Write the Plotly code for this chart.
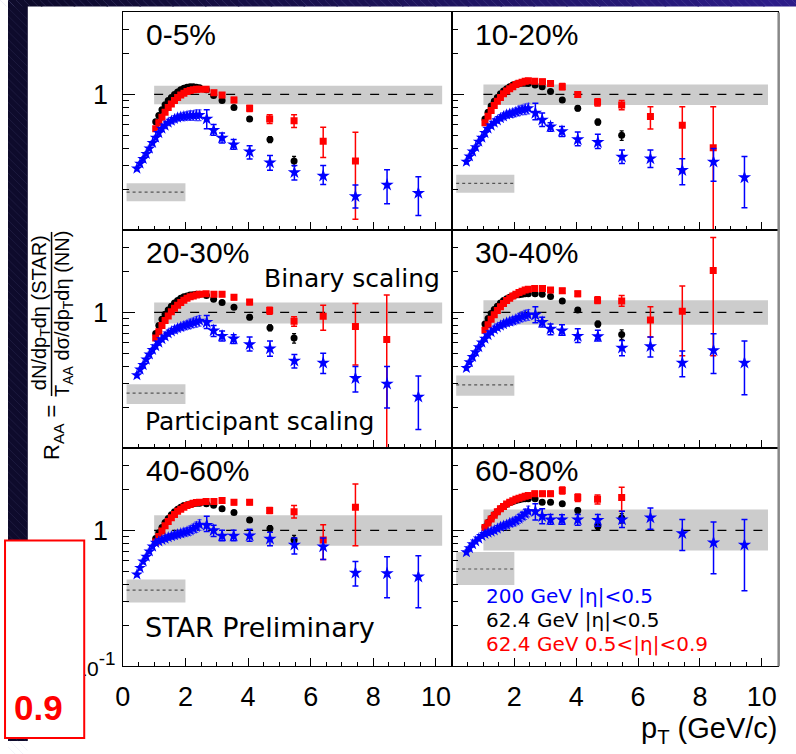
import plotly.graph_objects as go

W, H = 796, 754

# ---------------- data ----------------
centralities = ["0-5%", "10-20%", "20-30%", "30-40%", "40-60%", "60-80%"]

pt_blue_dense = [0.45, 0.55, 0.65, 0.75, 0.85, 0.95, 1.05, 1.15, 1.25, 1.35, 1.45,
                 1.55, 1.65, 1.75, 1.85, 1.95, 2.05, 2.15, 2.25, 2.35, 2.45]
pt_62_dense = [1.05, 1.15, 1.25, 1.35, 1.45, 1.55, 1.65, 1.75, 1.85, 1.95, 2.05,
               2.15, 2.25, 2.35, 2.45]
pt_blue_sparse = [2.68, 2.9, 3.17, 3.54, 4.05, 4.7, 5.48, 6.4, 7.43, 8.44, 9.44]
pt_black_sparse = [2.67, 2.9, 3.17, 3.55, 4.05, 4.7, 5.47]
pt_red_sparse = [2.66, 2.91, 3.17, 3.55, 4.05, 4.69, 5.47, 6.4, 7.43, 8.43]

blue_dense_err_pct = [4, 4, 4, 4, 4, 4, 4, 4, 4, 5, 5, 5, 6, 6, 6, 7, 7, 8, 8, 9, 9]
black_dense_err_pct = [2, 2, 2, 2, 2, 2, 2, 2, 2, 2, 2, 2, 2, 2, 2]
red_dense_err_pct = [3, 3, 3, 3, 3, 3, 3, 3, 3, 3, 3, 3, 3, 3, 3]
black_sparse_err_pct = [3, 3, 3, 3, 4, 5, 8]

# 0-5%
c0_blue_dense = [0.285, 0.31, 0.335, 0.365, 0.40, 0.44, 0.48, 0.52, 0.56, 0.59, 0.62,
                 0.64, 0.66, 0.675, 0.685, 0.69, 0.695, 0.70, 0.70, 0.705, 0.705]
c0_blue = [0.66, 0.545, 0.479, 0.428, 0.379, 0.315, 0.267, 0.252, 0.178, 0.216, 0.188]
c0_blue_hi = [0.77, 0.60, 0.52, 0.466, 0.42, 0.356, 0.30, 0.30, 0.216, 0.279, 0.248]
c0_blue_lo = [0.56, 0.50, 0.44, 0.395, 0.335, 0.277, 0.235, 0.218, 0.146, 0.157, 0.129]
c0_black_dense = [0.63, 0.70, 0.77, 0.84, 0.90, 0.95, 1.0, 1.04, 1.08, 1.11, 1.13, 1.14, 1.14, 1.13, 1.12]
c0_black = [1.08, 0.98, 0.90, 0.80, 0.66, 0.466, 0.324]
c0_red_dense = [0.56, 0.62, 0.68, 0.74, 0.80, 0.85, 0.90, 0.95, 0.99, 1.02, 1.05, 1.07, 1.08, 1.09, 1.09]
c0_red = [1.09, 1.03, 0.99, 0.91, 0.79, 0.66, 0.64, 0.453, 0.324]
c0_red_hi = [1.13, 1.07, 1.03, 0.95, 0.83, 0.71, 0.71, 0.573, 0.527]
c0_red_lo = [1.05, 0.99, 0.95, 0.87, 0.75, 0.61, 0.57, 0.343, 0.121]

# 10-20%
c1_blue_dense = [0.32, 0.35, 0.38, 0.41, 0.45, 0.48, 0.52, 0.56, 0.59, 0.62, 0.645,
                 0.67, 0.69, 0.71, 0.72, 0.73, 0.745, 0.76, 0.77, 0.78, 0.79]
c1_blue = [0.73, 0.65, 0.58, 0.535, 0.466, 0.445, 0.347, 0.337, 0.277, 0.319, 0.245]
c1_blue_hi = [0.86, 0.73, 0.62, 0.58, 0.53, 0.51, 0.39, 0.39, 0.337, 0.40, 0.35]
c1_blue_lo = [0.65, 0.58, 0.535, 0.49, 0.42, 0.40, 0.31, 0.29, 0.217, 0.23, 0.147]
c1_black_dense = [0.66, 0.74, 0.82, 0.89, 0.95, 1.01, 1.06, 1.10, 1.14, 1.17, 1.19, 1.20, 1.21, 1.21, 1.20]
c1_black = [1.17, 1.14, 1.05, 0.91, 0.79, 0.627, 0.50]
c1_red_dense = [0.62, 0.69, 0.76, 0.83, 0.89, 0.95, 1.01, 1.06, 1.10, 1.14, 1.18, 1.21, 1.23, 1.25, 1.26]
c1_red = [1.25, 1.24, 1.20, 1.14, 1.00, 0.875, 0.836, 0.688, 0.592, 0.405]
c1_red_hi = [1.30, 1.29, 1.25, 1.20, 1.04, 0.93, 0.90, 0.81, 0.81, 0.81]
c1_red_lo = [1.20, 1.19, 1.15, 1.08, 0.96, 0.82, 0.77, 0.557, 0.27, 0.05]

# 20-30%
c2_blue_dense = [0.345, 0.38, 0.41, 0.45, 0.49, 0.53, 0.565, 0.60, 0.635, 0.665, 0.70,
                 0.725, 0.745, 0.765, 0.78, 0.795, 0.81, 0.825, 0.84, 0.855, 0.87]
c2_blue = [0.846, 0.735, 0.67, 0.64, 0.582, 0.541, 0.44, 0.426, 0.328, 0.298, 0.239]
c2_blue_hi = [0.95, 0.80, 0.73, 0.684, 0.66, 0.615, 0.49, 0.50, 0.40, 0.40, 0.34]
c2_blue_lo = [0.76, 0.665, 0.615, 0.59, 0.52, 0.476, 0.39, 0.356, 0.26, 0.198, 0.138]
c2_black_dense = [0.70, 0.80, 0.89, 0.97, 1.04, 1.11, 1.17, 1.22, 1.27, 1.30, 1.32, 1.34, 1.35, 1.36, 1.36]
c2_black = [1.33, 1.25, 1.18, 1.09, 0.92, 0.77, 0.647]
c2_red_dense = [0.647, 0.72, 0.80, 0.87, 0.94, 1.01, 1.07, 1.13, 1.18, 1.23, 1.27, 1.30, 1.32, 1.34, 1.36]
c2_red = [1.37, 1.36, 1.36, 1.29, 1.19, 1.03, 0.86, 0.935, 0.786, 0.632]
c2_red_hi = [1.42, 1.41, 1.41, 1.34, 1.24, 1.09, 0.93, 1.13, 1.16, 1.34]
c2_red_lo = [1.32, 1.31, 1.31, 1.24, 1.14, 0.97, 0.79, 0.74, 0.41, 0.05]

# 30-40%
c3_blue_dense = [0.39, 0.43, 0.47, 0.51, 0.555, 0.60, 0.64, 0.68, 0.715, 0.75, 0.775,
                 0.80, 0.82, 0.84, 0.855, 0.87, 0.89, 0.91, 0.93, 0.95, 0.96]
c3_blue = [0.96, 0.846, 0.757, 0.735, 0.67, 0.665, 0.548, 0.563, 0.426, 0.526, 0.426]
c3_blue_hi = [1.10, 0.92, 0.82, 0.81, 0.757, 0.74, 0.62, 0.66, 0.52, 0.695, 0.616]
c3_blue_lo = [0.84, 0.78, 0.685, 0.68, 0.60, 0.615, 0.48, 0.47, 0.337, 0.356, 0.248]
c3_black_dense = [0.82, 0.90, 0.98, 1.05, 1.11, 1.17, 1.22, 1.26, 1.29, 1.32, 1.34, 1.35, 1.36, 1.37, 1.37]
c3_black = [1.37, 1.36, 1.31, 1.21, 1.04, 0.82, 0.688]
c3_red_dense = [0.74, 0.81, 0.89, 0.96, 1.03, 1.10, 1.16, 1.22, 1.27, 1.32, 1.36, 1.40, 1.43, 1.46, 1.48]
c3_red = [1.50, 1.50, 1.46, 1.44, 1.37, 1.23, 1.21, 0.879, 1.02, 2.03]
c3_red_hi = [1.56, 1.56, 1.52, 1.50, 1.43, 1.30, 1.33, 1.10, 1.56, 3.55]
c3_red_lo = [1.44, 1.44, 1.40, 1.38, 1.31, 1.16, 1.11, 0.66, 0.48, 0.48]

# 40-60%
c4_blue_dense = [0.474, 0.53, 0.59, 0.64, 0.70, 0.76, 0.81, 0.83, 0.85, 0.87, 0.89,
                 0.905, 0.92, 0.935, 0.95, 0.965, 0.98, 1.0, 1.03, 1.06, 1.10]
c4_blue = [1.09, 1.0, 0.91, 0.91, 0.914, 0.865, 0.782, 0.76, 0.487, 0.482, 0.456]
c4_blue_hi = [1.27, 1.09, 1.0, 1.0, 1.02, 0.97, 0.88, 0.88, 0.59, 0.64, 0.65]
c4_blue_lo = [0.98, 0.90, 0.84, 0.84, 0.83, 0.77, 0.67, 0.61, 0.39, 0.32, 0.27]
c4_black_dense = [0.87, 0.96, 1.05, 1.14, 1.22, 1.30, 1.37, 1.43, 1.48, 1.52, 1.54, 1.56, 1.57, 1.58, 1.58]
c4_black = [1.57, 1.53, 1.44, 1.35, 1.19, 1.03, 0.85]
c4_red_dense = [0.82, 0.90, 0.99, 1.08, 1.16, 1.24, 1.31, 1.38, 1.43, 1.48, 1.52, 1.55, 1.58, 1.60, 1.61]
c4_red = [1.63, 1.63, 1.66, 1.61, 1.61, 1.40, 1.37, 0.85, 1.48]
c4_red_hi = [1.70, 1.70, 1.73, 1.68, 1.68, 1.47, 1.52, 1.10, 2.19]
c4_red_lo = [1.56, 1.56, 1.59, 1.54, 1.54, 1.33, 1.23, 0.61, 0.77]

# 60-80%
c5_blue_dense = [0.69, 0.74, 0.79, 0.83, 0.87, 0.91, 0.94, 0.96, 0.98, 1.0, 1.03,
                 1.06, 1.08, 1.10, 1.13, 1.15, 1.18, 1.22, 1.27, 1.32, 1.38]
c5_blue = [1.38, 1.27, 1.20, 1.20, 1.20, 1.19, 1.20, 1.24, 0.951, 0.813, 0.782]
c5_blue_hi = [1.57, 1.44, 1.31, 1.30, 1.31, 1.31, 1.38, 1.46, 1.20, 1.15, 1.20]
c5_blue_lo = [1.19, 1.12, 1.11, 1.11, 1.09, 1.07, 1.05, 1.02, 0.71, 0.48, 0.36]
c5_black_dense = [1.06, 1.14, 1.22, 1.30, 1.37, 1.44, 1.50, 1.55, 1.60, 1.63, 1.66, 1.68, 1.70, 1.71, 1.71]
c5_black = [1.71, 1.61, 1.61, 1.57, 1.40, 1.07, 1.23]
c5_red_dense = [1.05, 1.13, 1.21, 1.29, 1.37, 1.44, 1.50, 1.56, 1.61, 1.65, 1.69, 1.72, 1.75, 1.78, 1.80]
c5_red = [1.86, 1.86, 1.86, 1.96, 1.74, 1.69, 1.74]
c5_red_hi = [1.94, 1.94, 1.94, 2.08, 1.85, 1.82, 2.07]
c5_red_lo = [1.78, 1.78, 1.78, 1.85, 1.63, 1.56, 1.38]

# normalisation bands: binary scaling (around 1) and participant scaling level
binary_band_lo = [0.846, 0.836, 0.83, 0.81, 0.77, 0.71]
binary_band_hi = [1.156, 1.18, 1.18, 1.23, 1.29, 1.42]
binary_band_pt = [1.0, 10.2]
part_band_lo = [0.164, 0.189, 0.212, 0.244, 0.295, 0.396]
part_band_hi = [0.222, 0.257, 0.296, 0.343, 0.436, 0.692]
part_level = [0.191, 0.222, 0.255, 0.293, 0.363, 0.52]
part_band_pt = [0.12, 2.0]

x_major = [0, 2, 4, 6, 8, 10]
y_major = [0.1, 1]
y_minor = [0.2, 0.3, 0.4, 0.5, 0.6, 0.7, 0.8, 0.9, 2, 3]

legend_labels = ["200 GeV |η|<0.5", "62.4 GeV |η|<0.5", "62.4 GeV 0.5<|η|<0.9"]

panels = [
    (c0_blue_dense, c0_blue, c0_blue_hi, c0_blue_lo, c0_black_dense, c0_black, c0_red_dense, c0_red, c0_red_hi, c0_red_lo),
    (c1_blue_dense, c1_blue, c1_blue_hi, c1_blue_lo, c1_black_dense, c1_black, c1_red_dense, c1_red, c1_red_hi, c1_red_lo),
    (c2_blue_dense, c2_blue, c2_blue_hi, c2_blue_lo, c2_black_dense, c2_black, c2_red_dense, c2_red, c2_red_hi, c2_red_lo),
    (c3_blue_dense, c3_blue, c3_blue_hi, c3_blue_lo, c3_black_dense, c3_black, c3_red_dense, c3_red, c3_red_hi, c3_red_lo),
    (c4_blue_dense, c4_blue, c4_blue_hi, c4_blue_lo, c4_black_dense, c4_black, c4_red_dense, c4_red, c4_red_hi, c4_red_lo),
    (c5_blue_dense, c5_blue, c5_blue_hi, c5_blue_lo, c5_black_dense, c5_black, c5_red_dense, c5_red, c5_red_hi, c5_red_lo),
]

# ---------------- styling / layout ----------------
BLUE, BLACK, RED, GRAY = "#0000ff", "#000000", "#ff0000", "#cccccc"
FONT = "Liberation Sans, Arial, Helvetica, sans-serif"
WIDE = "DejaVu Sans, Verdana, sans-serif"

col_x = [(116, 449), (449, 778)]
row_top0, row_h = 12.7, 221.8


def px(x):
    return x / W


def py(y):
    return 1 - y / H


fig = go.Figure()
layout = dict(width=W, height=H, margin=dict(l=0, r=0, t=0, b=0),
              paper_bgcolor="white", plot_bgcolor="white", showlegend=False,
              font=dict(family=FONT, color="black"))

for i in range(6):
    r, c = divmod(i, 2)
    sfx = "" if i == 0 else str(i + 1)
    xa_name, ya_name = "xaxis" + sfx, "yaxis" + sfx
    xr, yr = "x" + sfx, "y" + sfx
    top = row_top0 + r * row_h
    bot = top + row_h
    xt = [str(v) for v in x_major]
    if c == 1:
        xt[0] = ""
    layout[xa_name] = dict(
        domain=[px(col_x[c][0]), px(col_x[c][1])], anchor=yr, range=[0, 10.53],
        showgrid=False, zeroline=False, showline=True, mirror=True,
        linecolor="black", linewidth=1, ticks="inside", ticklen=8, tickwidth=1,
        tickcolor="black", tickmode="array", tickvals=x_major, ticktext=xt,
        showticklabels=(r == 2), tickfont=dict(size=27, family=FONT),
        ticklabelstandoff=6,
        minor=dict(tickmode="linear", tick0=0, dtick=0.5, ticks="inside",
                   ticklen=4, tickcolor="black", tickwidth=1, showgrid=False))
    yt = ['<span style="font-size:21px">10</span><sup>-1</sup>' if r == 2 else "", "1&nbsp;"]
    layout[ya_name] = dict(
        domain=[py(bot), py(top)], anchor=xr, type="log", range=[-1, 0.602],
        showgrid=False, zeroline=False, showline=True, mirror=True,
        linecolor="black", linewidth=1, ticks="inside", ticklen=12, tickwidth=1,
        tickcolor="black", tickmode="array", tickvals=y_major, ticktext=yt,
        showticklabels=(c == 0), tickfont=dict(size=27, family=FONT),
        ticklabelstandoff=1,
        minor=dict(tickmode="array", tickvals=y_minor, ticks="inside",
                   ticklen=6, tickcolor="black", tickwidth=1, showgrid=False))

    bd, bs, bhi, blo, kd, ks, rd, rs, rhi, rlo = panels[i]

    # grey normalisation bands
    x0, x1 = binary_band_pt
    fig.add_trace(go.Scatter(x=[x0, x1, x1, x0, x0],
                             y=[binary_band_lo[i], binary_band_lo[i], binary_band_hi[i], binary_band_hi[i], binary_band_lo[i]],
                             mode="lines", fill="toself", fillcolor=GRAY, line=dict(width=0),
                             xaxis=xr, yaxis=yr, hoverinfo="skip"))
    p0, p1 = part_band_pt
    fig.add_trace(go.Scatter(x=[p0, p1, p1, p0, p0],
                             y=[part_band_lo[i], part_band_lo[i], part_band_hi[i], part_band_hi[i], part_band_lo[i]],
                             mode="lines", fill="toself", fillcolor=GRAY, line=dict(width=0),
                             xaxis=xr, yaxis=yr, hoverinfo="skip"))
    fig.add_trace(go.Scatter(x=[x0, x1], y=[1, 1], mode="lines",
                             line=dict(color="black", width=1.2, dash="dash"),
                             xaxis=xr, yaxis=yr, hoverinfo="skip"))
    fig.add_trace(go.Scatter(x=[p0, p1], y=[part_level[i], part_level[i]], mode="lines",
                             line=dict(color="#555555", width=1.2, dash="dot"),
                             xaxis=xr, yaxis=yr, hoverinfo="skip"))

    # 62.4 GeV |eta|<0.5 (black circles)
    kx = pt_62_dense + pt_black_sparse[:len(ks)]
    ky = kd + ks
    kpct = black_dense_err_pct + black_sparse_err_pct[:len(ks)]
    fig.add_trace(go.Scatter(x=kx, y=ky, mode="markers", xaxis=xr, yaxis=yr,
                             marker=dict(symbol="circle", size=7, color=BLACK),
                             error_y=dict(type="data", array=[v * p / 100 for v, p in zip(ky, kpct)],
                                          color=BLACK, thickness=1.3, width=2)))

    # 62.4 GeV 0.5<|eta|<0.9 (red squares)
    fig.add_trace(go.Scatter(x=pt_62_dense, y=rd, mode="markers", xaxis=xr, yaxis=yr,
                             marker=dict(symbol="square", size=7, color=RED),
                             error_y=dict(type="data", array=[v * p / 100 for v, p in zip(rd, red_dense_err_pct)],
                                          color=RED, thickness=1.3, width=2)))
    fig.add_trace(go.Scatter(x=pt_red_sparse[:len(rs)], y=rs, mode="markers", xaxis=xr, yaxis=yr,
                             marker=dict(symbol="square", size=7, color=RED),
                             error_y=dict(type="data", symmetric=False,
                                          array=[h - v for h, v in zip(rhi, rs)],
                                          arrayminus=[v - l for v, l in zip(rs, rlo)],
                                          color=RED, thickness=1.5, width=3)))

    # 200 GeV |eta|<0.5 (blue stars)
    fig.add_trace(go.Scatter(x=pt_blue_dense, y=bd, mode="markers", xaxis=xr, yaxis=yr,
                             marker=dict(symbol="star", size=9, color=BLUE),
                             error_y=dict(type="data", array=[v * p / 100 for v, p in zip(bd, blue_dense_err_pct)],
                                          color="#4d4dff", thickness=1.2, width=2)))
    fig.add_trace(go.Scatter(x=pt_blue_sparse, y=bs, mode="markers", xaxis=xr, yaxis=yr,
                             marker=dict(symbol="star", size=10, color=BLUE),
                             error_y=dict(type="data", symmetric=False,
                                          array=[h - v for h, v in zip(bhi, bs)],
                                          arrayminus=[v - l for v, l in zip(bs, blo)],
                                          color=BLUE, thickness=1.5, width=3)))

annotations = []
shapes = []

# centrality labels
for i, lab in enumerate(centralities):
    r, c = divmod(i, 2)
    annotations.append(dict(text=lab, xref="paper", yref="paper",
                            x=px(col_x[c][0] + 21), y=py(row_top0 + r * row_h + 22),
                            xanchor="left", yanchor="middle", showarrow=False,
                            font=dict(size=30, family=FONT, color="black")))

annotations += [
    dict(text="Binary scaling", x=px(438), y=py(283), xanchor="right", yanchor="middle",
         font=dict(size=25, family=WIDE, color="black")),
    dict(text="Participant scaling", x=px(136), y=py(429), xanchor="left", yanchor="middle",
         font=dict(size=25, family=WIDE, color="black")),
    dict(text="STAR Preliminary", x=px(136), y=py(639), xanchor="left", yanchor="middle",
         font=dict(size=27, family=WIDE, color="black")),
    dict(text=legend_labels[0], x=px(481), y=py(606), xanchor="left", yanchor="middle",
         font=dict(size=20, family=WIDE, color=BLUE)),
    dict(text=legend_labels[1], x=px(481), y=py(631), xanchor="left", yanchor="middle",
         font=dict(size=20, family=WIDE, color="black")),
    dict(text=legend_labels[2], x=px(481), y=py(655), xanchor="left", yanchor="middle",
         font=dict(size=20, family=WIDE, color=RED)),
    dict(text="p<sub>T</sub> (GeV/c)", x=px(780), y=py(743), xanchor="right", yanchor="middle",
         font=dict(size=29, family=FONT, color="black")),
    # y-axis title as a fraction
    dict(text="dN/dp<sub>T</sub>dη (STAR)", x=px(33), y=py(318), xanchor="center", yanchor="middle",
         textangle=-90, font=dict(size=20, family=FONT, color="black")),
    dict(text="T<sub>AA</sub> dσ/dp<sub>T</sub>dη (NN)", x=px(56), y=py(319), xanchor="center", yanchor="middle",
         textangle=-90, font=dict(size=20, family=FONT, color="black")),
    dict(text="R<sub>AA</sub> =", x=px(46), y=py(440), xanchor="center", yanchor="middle",
         textangle=-90, font=dict(size=22, family=FONT, color="black")),
    dict(text="<b>0.9</b>", x=px(31), y=py(720), xanchor="center", yanchor="middle",
         font=dict(size=35, family=FONT, color=RED)),
]
for a in annotations:
    a.setdefault("xref", "paper")
    a.setdefault("yref", "paper")
    a.setdefault("showarrow", False)

# fraction bar of the y title
shapes.append(dict(type="line", xref="paper", yref="paper", x0=px(44), x1=px(44),
                   y0=py(236), y1=py(403), line=dict(color="black", width=1.5)))

# slide background: dark top band (gradient) and left band
n_seg = 24
c_left, c_right = (13, 10, 42), (44, 28, 136)
for k in range(n_seg):
    t = k / (n_seg - 1)
    col = "rgb(%d,%d,%d)" % tuple(int(a + (b - a) * t) for a, b in zip(c_left, c_right))
    shapes.append(dict(type="rect", xref="paper", yref="paper",
                       x0=k / n_seg, x1=(k + 1) / n_seg + 0.002, y0=py(6.5), y1=1.0,
                       fillcolor=col, line=dict(width=0), layer="above"))
shapes.append(dict(type="rect", xref="paper", yref="paper", x0=0, x1=px(20), y0=0, y1=1,
                   fillcolor="rgb(14,11,44)", line=dict(width=0), layer="above"))
# faint diagonal hatching on the bands
for k in range(-4, 120):
    xs = k * 8
    shapes.append(dict(type="line", xref="paper", yref="paper",
                       x0=px(xs), y0=1.0, x1=px(xs + 6.5), y1=py(6.5),
                       line=dict(color="rgba(150,150,210,0.22)", width=0.8), layer="above"))
for k in range(0, 96):
    ys = k * 8
    shapes.append(dict(type="line", xref="paper", yref="paper",
                       x0=0, y0=py(ys), x1=px(19.5), y1=py(ys + 19.5),
                       line=dict(color="rgba(150,150,210,0.14)", width=0.8), layer="above"))
# red framed box bottom-left
shapes.append(dict(type="rect", xref="paper", yref="paper", x0=px(-3), x1=px(77),
                   y0=py(751), y1=py(550), fillcolor="white",
                   line=dict(color=RED, width=2), layer="above"))
# grey shadow border on the right edge of the frame
shapes.append(dict(type="line", xref="paper", yref="paper", x0=px(778.5), x1=px(778.5),
                   y0=py(678), y1=py(12.7), line=dict(color="#888888", width=2.5)))

layout["annotations"] = annotations
layout["shapes"] = shapes
fig.update_layout(**layout)
fig.write_html("out.html")
